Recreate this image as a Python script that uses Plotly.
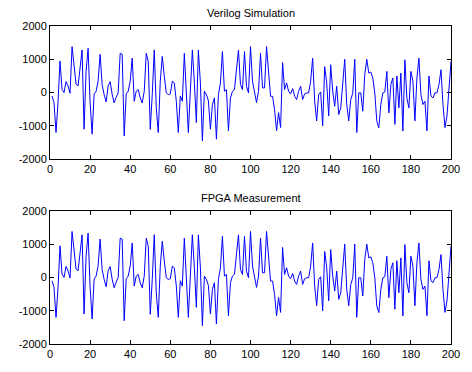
import plotly.graph_objects as go

samples = list(range(1, 201))

verilog = [
    -100, -300, -1200, -300, 950, 100, 0, 330, 200, -20,
    1380, 900, 250, 200, 700, 1280, -1100, 640, 1330, -300,
    -1250, -50, 40, 350, 1150, 240, -60, -280, 200, 330,
    -50, -310, -140, -10, 1180, 1150, -1300, -40, 40, 340,
    1035, -260, 40, 90, -160, -310, 40, 1180, 935, -1105,
    -60, 1283, -460, -1200, 340, 1085, 490, -10, -60, -40,
    340, 290, -260, -1200, -100, -260, 1180, -160, -1200, 40,
    1280, 300, -900, 1280, 300, -1450, 40, -60, -240, -1100,
    -360, -160, -1400, -60, 290, 1230, 40, 90, -1150, -160,
    40, 90, 600, 1280, 240, 90, 1230, 190, -10, 1380,
    340, 20, -300, 40, 1180, 140, 140, 1380, 537, -110,
    -110, -510, -1150, -600, -1050, 900, 90, 290, 40, -40,
    120, -110, -210, 40, 190, -210, -40, -10, -10, 340,
    1035, -260, -850, -60, 20, -1000, 780, 300, -700, 836,
    40, -410, 190, -660, -460, 440, 1000, -360, -850, -210,
    -20, 1000, -1200, -10, -10, -560, 540, 1000, 587, 617,
    440, -10, -860, -1055, -360, -10, 20, 637, -610, 240,
    440, -955, 500, -460, 587, -1155, 985, -160, -460, 637,
    340, -850, 440, 1035, -60, -360, -260, -1150, 500, -100,
    -160, -10, -10, 240, 686, -360, -1050, -700, 40, 935,
]

fpga = list(verilog)

titles = ["Verilog Simulation", "FPGA Measurement"]
x_ticks = [0, 20, 40, 60, 80, 100, 120, 140, 160, 180, 200]
y_ticks = [-2000, -1000, 0, 1000, 2000]
y_tick_labels = ["-2000", "-1000", "0", "1000", "2000"]

fig = go.Figure()
fig.add_trace(go.Scatter(x=samples, y=verilog, mode="lines",
                         line=dict(color="#0000ff", width=1),
                         xaxis="x", yaxis="y", showlegend=False))
fig.add_trace(go.Scatter(x=samples, y=fpga, mode="lines",
                         line=dict(color="#0000ff", width=1),
                         xaxis="x2", yaxis="y2", showlegend=False))

font = dict(family="Liberation Sans, Arial, sans-serif", size=11, color="#000000")

axis_common = dict(showline=True, linecolor="#000000", linewidth=1, mirror="ticks",
                   ticks="inside", ticklen=4, tickcolor="#000000", showgrid=False,
                   zeroline=False, tickfont=font)

fig.update_layout(
    width=472, height=372,
    margin=dict(l=50, r=12, t=26, b=26),
    paper_bgcolor="white", plot_bgcolor="white",
    font=font,
    xaxis=dict(domain=[0, 1], anchor="y", range=[0, 200], tickvals=x_ticks, **axis_common),
    yaxis=dict(domain=[0.58125, 1], anchor="x", range=[-2000, 2000], tickvals=y_ticks,
               ticktext=y_tick_labels, **axis_common),
    xaxis2=dict(domain=[0, 1], anchor="y2", range=[0, 200], tickvals=x_ticks, **axis_common),
    yaxis2=dict(domain=[0, 0.41875], anchor="x2", range=[-2000, 2000], tickvals=y_ticks,
                ticktext=y_tick_labels, **axis_common),
    annotations=[
        dict(text=titles[0], xref="paper", yref="paper", x=0.5, y=1, yanchor="bottom",
             yshift=5, showarrow=False, font=font),
        dict(text=titles[1], xref="paper", yref="paper", x=0.5, y=0.41875, yanchor="bottom",
             yshift=5, showarrow=False, font=font),
    ],
)

fig.write_html("out.html")
